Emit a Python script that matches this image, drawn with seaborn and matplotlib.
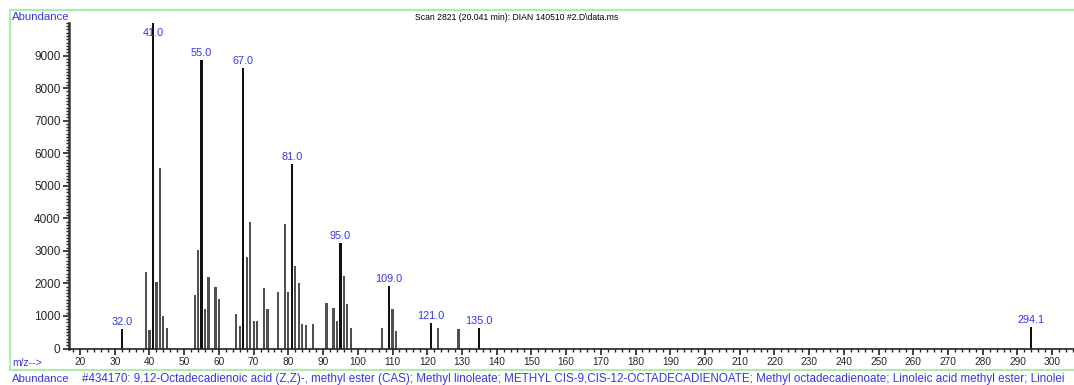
# Mass spectrum - scan 2821, methyl linoleate match
import pandas as pd
import matplotlib.pyplot as plt
import seaborn as sns
from matplotlib.lines import Line2D
from matplotlib.ticker import MultipleLocator

# ------------------------------------
# Data
# ------------------------------------
mz = [32, 39, 40, 41, 42, 43, 44, 45,
      53, 54, 55, 56, 57, 59, 60,
      65, 66, 67, 68, 69, 70, 71, 73, 74, 77,
      79, 80, 81, 82, 83, 84, 85, 87,
      91, 93, 94, 95, 96, 97, 98,
      107, 109, 110, 111, 121, 123, 129, 135, 294]
abundance = [610, 2360, 570, 10000, 2050, 5530, 1000, 620,
             1630, 3030, 8850, 1200, 2200, 1900, 1530,
             1045, 690, 8630, 2800, 3900, 850, 860, 1860, 1220, 1750,
             3830, 1740, 5660, 2530, 2020, 740, 720, 740,
             1410, 1250, 850, 3240, 2230, 1370, 630,
             640, 1910, 1220, 540, 790, 630, 590, 620, 660]
label_mz = [32, 41, 55, 67, 81, 95, 109, 121, 135, 294]
label_text = ['32.0', '41.0', '55.0', '67.0', '81.0', '95.0',
              '109.0', '121.0', '135.0', '294.1']

title = 'Scan 2821 (20.041 min): DIAN 140510 #2.D\\data.ms'
# library hit line, truncated just like the instrument printout
hit_text = ('#434170: 9,12-Octadecadienoic acid (Z,Z)-, methyl ester (CAS); '
            'Methyl linoleate; METHYL CIS-9,CIS-12-OCTADECADIENOATE; '
            'Methyl octadecadienoate; Linoleic acid methyl ester; Linolei')

df = pd.DataFrame({'mz': mz, 'abundance': abundance})
df['kind'] = ['label' if m in label_mz else 'plain' for m in df['mz']]

# ------------------------------------
# Plot
# ------------------------------------
sns.set_style('white')
plt.rcParams['font.family'] = ['Liberation Sans', 'DejaVu Sans']

blue = '#3535f0'
green = '#a8f0a8'

fig = plt.figure(figsize=(10.74, 3.85), dpi=100)
ax = fig.add_axes([0.0642, 0.0948, 0.9358, 0.8455])

sns.barplot(data=df, x='mz', y='abundance', hue='kind', native_scale=True,
            palette={'plain': '#505050', 'label': '#111111'}, width=0.62,
            linewidth=0, legend=False, ax=ax)

for m, t in zip(label_mz, label_text):
    h = df.loc[df['mz'] == m, 'abundance'].iloc[0]
    ax.text(m, min(h + 60, 9550), t, color=blue, fontsize=7.8,
            ha='center', va='bottom')

ax.set_xlim(16.8, 306.3)
ax.set_ylim(0, 10000)
ax.set_xticks(range(20, 301, 10))
ax.set_yticks(range(0, 9001, 1000))
ax.xaxis.set_minor_locator(MultipleLocator(2))
ax.yaxis.set_minor_locator(MultipleLocator(100))
ax.tick_params(which='both', bottom=True, left=True, color='#222222')
ax.tick_params(which='major', direction='out', length=4, width=1.2, pad=2)
ax.tick_params(which='minor', direction='out', length=2.5, width=1)
ax.tick_params(axis='x', labelsize=7.3)
ax.tick_params(axis='y', labelsize=8.5)
ax.set_xlabel('')
ax.set_ylabel('')

for side in ['top', 'right']:
    ax.spines[side].set_visible(False)
ax.spines['left'].set_linewidth(1.8)
ax.spines['left'].set_color('#333333')
ax.spines['bottom'].set_linewidth(1.2)
ax.spines['bottom'].set_color('#222222')

# header / footer texts
fig.text(12 / 1074, 1 - 17 / 385, 'Abundance', color=blue, fontsize=8.2,
         va='center', ha='left')
fig.text(415 / 1074, 1 - 17 / 385, title, color='black', fontsize=6.2,
         va='center', ha='left')
fig.text(12 / 1074, 1 - 363 / 385, 'm/z-->', color=blue, fontsize=7.5,
         va='center', ha='left')
fig.text(12 / 1074, 1 - 379 / 385, 'Abundance', color=blue, fontsize=8.2,
         va='center', ha='left')
fig.text(82 / 1074, 1 - 379 / 385, hit_text, color=blue, fontsize=8.4,
         va='center', ha='left')

# green frame lines
fig.add_artist(Line2D([10 / 1074, 1], [1 - 10 / 385] * 2, color=green, lw=1.5))
fig.add_artist(Line2D([10 / 1074] * 2, [1 - 10 / 385, 1 - 370 / 385],
                      color=green, lw=1.5))
fig.add_artist(Line2D([10 / 1074, 1], [1 - 370 / 385] * 2, color=green, lw=1.5))

fig.savefig('out.png', dpi=100)
